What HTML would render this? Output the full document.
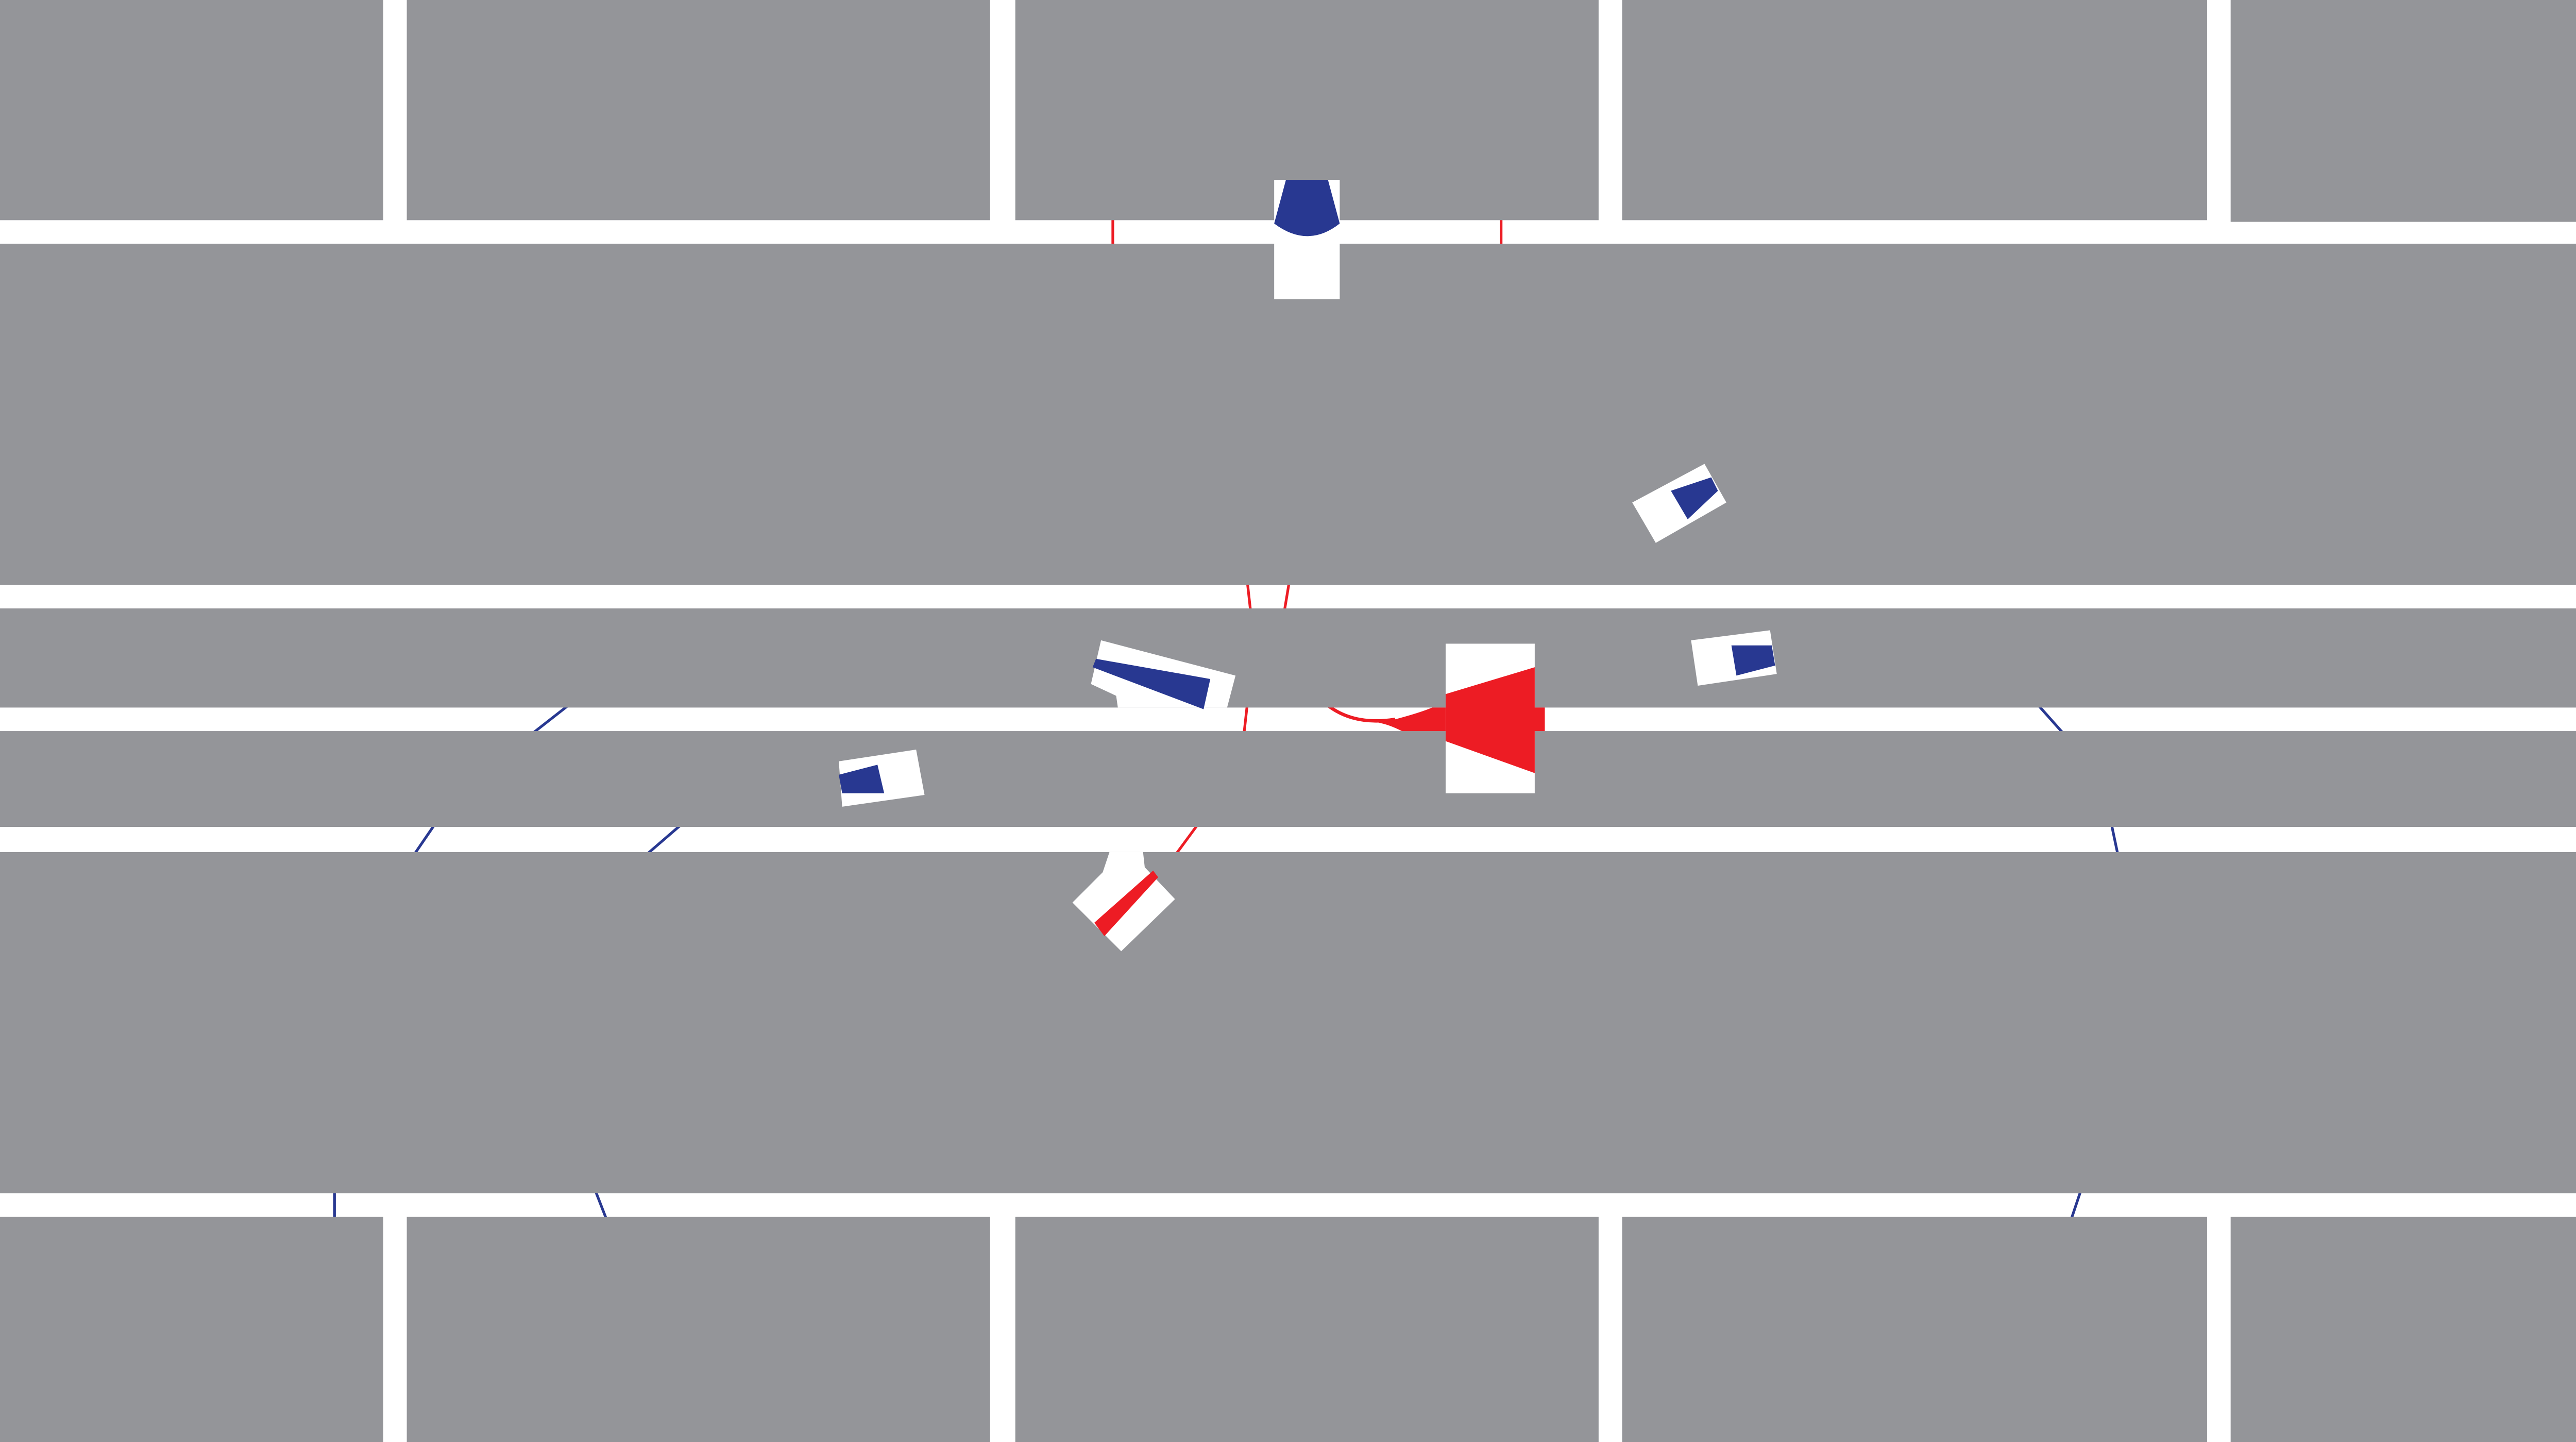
<!DOCTYPE html>
<html><head><meta charset="utf-8"><style>
html,body{margin:0;padding:0;background:#fff;}
svg{display:block;}
</style></head><body>
<svg width="5116" height="2799" viewBox="0 0 1568 858" preserveAspectRatio="none" xmlns="http://www.w3.org/2000/svg">
<rect x="0" y="0" width="1568" height="858" fill="#fff"/>
<g fill="none" stroke-width="1.6">
  <line x1="662" y1="129" x2="662" y2="147" stroke="#ed1c24"/>
  <line x1="893" y1="129" x2="893" y2="147" stroke="#ed1c24"/>
  <line x1="742" y1="346" x2="744" y2="364" stroke="#ed1c24"/>
  <line x1="767" y1="346" x2="764" y2="364" stroke="#ed1c24"/>
  <line x1="742" y1="419" x2="740" y2="437" stroke="#ed1c24"/>
  <line x1="713" y1="490" x2="699" y2="509" stroke="#ed1c24"/>
  <path d="M789,419 Q805,432 830,428" stroke="#ed1c24" stroke-width="2"/>
  <line x1="339" y1="419" x2="316" y2="437" stroke="#283891"/>
  <line x1="259" y1="490" x2="246" y2="509" stroke="#283891"/>
  <line x1="406" y1="490" x2="384" y2="509" stroke="#283891"/>
  <line x1="199" y1="708" x2="199" y2="726" stroke="#283891"/>
  <line x1="354" y1="708" x2="361" y2="726" stroke="#283891"/>
  <line x1="1238" y1="708" x2="1232" y2="726" stroke="#283891"/>
  <line x1="1212" y1="419" x2="1228" y2="437" stroke="#283891"/>
  <line x1="1256" y1="490" x2="1260" y2="509" stroke="#283891"/>
</g>
<g fill="#949599">
  <rect x="0" y="0" width="228" height="131"/>
  <rect x="242" y="0" width="347" height="131"/>
  <rect x="604" y="0" width="347" height="131"/>
  <rect x="965" y="0" width="348" height="131"/>
  <rect x="1327" y="0" width="241" height="132"/>
  <rect x="0" y="145" width="1568" height="203"/>
  <rect x="0" y="362" width="1568" height="59"/>
  <rect x="0" y="435" width="1568" height="57"/>
  <rect x="0" y="507" width="1568" height="203"/>
  <rect x="0" y="724" width="228" height="134"/>
  <rect x="242" y="724" width="347" height="134"/>
  <rect x="604" y="724" width="347" height="134"/>
  <rect x="965" y="724" width="348" height="134"/>
  <rect x="1327" y="724" width="241" height="134"/>
</g>
<g>
  <path d="M830,428 Q845,424 852,421 L860,421 L860,435 L834,435 Q826,431 820,430 Z" fill="#ed1c24"/>
</g>
<g>
  <rect x="758" y="107" width="39" height="71" fill="#fff"/>
  <path d="M765,107 L790,107 L797,133 Q778,148 758,133 Z" fill="#283891"/>
</g>
<g>
  <rect x="860" y="383" width="53" height="89" fill="#fff"/>
  <polygon points="860,413 913,397 913,421 919,421 919,435 913,435 913,460 860,441" fill="#ed1c24"/>
</g>
<g>
  <polygon points="655,381 735,402 730,421 665,421 664,414 649,407" fill="#fff"/>
  <polygon points="652,392 720,404 716,422 650,397" fill="#283891"/>
</g>
<g>
  <polygon points="499,453 545,446 550,473 501,480" fill="#fff"/>
  <polygon points="499,461 522,455 526,472 501,472" fill="#283891"/>
</g>
<g>
  <polygon points="971,299 1014,276 1027,299 985,323" fill="#fff"/>
  <polygon points="994,292 1018,284 1022,292 1004,309 Q996,303 994,292 Z" fill="#283891"/>
</g>
<g>
  <polygon points="1006,381 1053,375 1057,401 1010,408" fill="#fff"/>
  <polygon points="1030,384 1054,384 1056,396 1033,402" fill="#283891"/>
</g>
<g>
  <polygon points="660,507 680,507 681,516 699,535 667,566 638,537 656,519" fill="#fff"/>
  <polygon points="651,549 686,518 689,522 657,557" fill="#ed1c24"/>
</g>
</svg>
</body></html>
